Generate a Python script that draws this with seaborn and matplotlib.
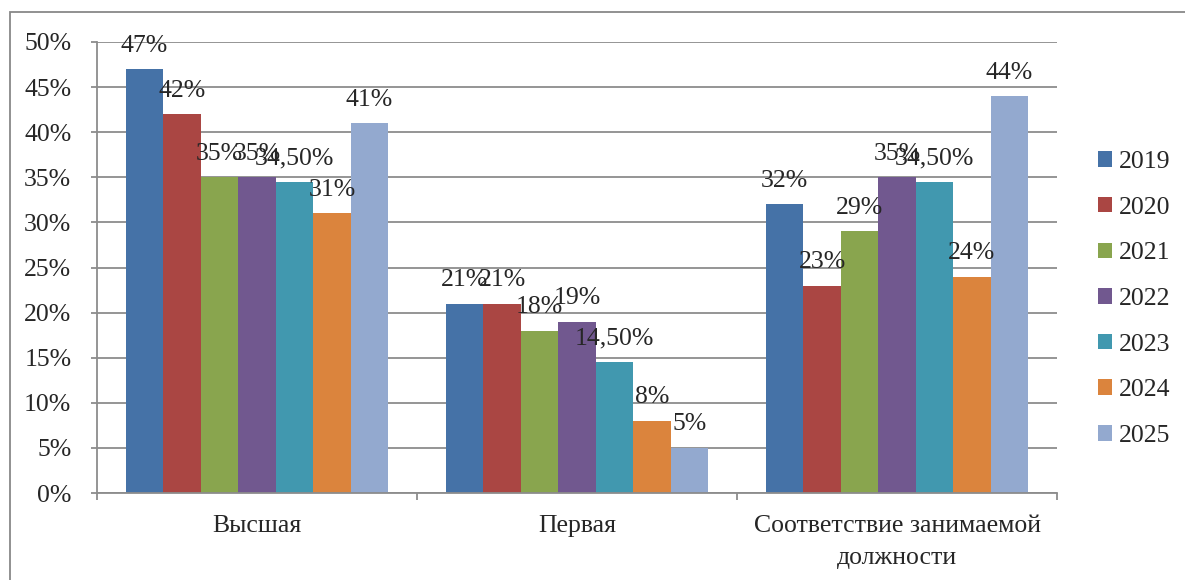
import pandas as pd
import matplotlib.pyplot as plt
import seaborn as sns
from matplotlib.patches import Rectangle

# data
categories = ['Высшая', 'Первая', 'Соответствие занимаемой\nдолжности']
years = ['2019', '2020', '2021', '2022', '2023', '2024', '2025']
v2019 = [47, 21, 32]
v2020 = [42, 21, 23]
v2021 = [35, 18, 29]
v2022 = [35, 19, 35]
v2023 = [34.5, 14.5, 34.5]
v2024 = [31, 8, 24]
v2025 = [41, 5, 44]
series = [v2019, v2020, v2021, v2022, v2023, v2024, v2025]
colors = ['#4572A7', '#AA4643', '#89A54E', '#71588F', '#4198AF', '#DB843D', '#93A9CF']

rows = []
for year, vals in zip(years, series):
    for cat, v in zip(categories, vals):
        rows.append({'cat': cat, 'year': year, 'val': v / 100})
df = pd.DataFrame(rows)

sns.set_style('white')
plt.rcParams['font.family'] = ['Liberation Serif', 'DejaVu Serif']
FS = 18.5

fig = plt.figure(figsize=(11.85, 5.8), dpi=100)
ax = fig.add_axes([97 / 1185, 1 - 493 / 580, 960 / 1185, 451 / 580])

sns.barplot(data=df, x='cat', y='val', hue='year', hue_order=years,
            palette=colors, width=0.82, saturation=1, linewidth=0, ax=ax)


def fmt(v):
    if float(v).is_integer():
        return f'{int(v)}%'
    return f'{v:.2f}%'.replace('.', ',')


for cont, vals in zip(ax.containers, series):
    ax.bar_label(cont, labels=[fmt(v) for v in vals], padding=9, fontsize=FS)

grid_c = '#8c8c8c'
ax.set_ylim(0, 0.5)
ax.set_xlim(-0.5, 2.5)
ax.set_yticks([i / 100 for i in range(0, 51, 5)])
ax.set_yticklabels([f'{i}%' for i in range(0, 51, 5)], fontsize=FS)
ax.yaxis.grid(True, color=grid_c, linewidth=1.3)
ax.set_axisbelow(True)
ax.tick_params(axis='y', length=4.5, width=1.3, color=grid_c, pad=14, left=True)

ax.set_xticks([-0.5, 0.5, 1.5, 2.5])
ax.set_xticklabels([])
ax.set_xticks([0, 1, 2], minor=True)
ax.set_xticklabels(categories, minor=True, fontsize=FS, linespacing=1.6)
ax.tick_params(axis='x', which='major', length=5, width=1.3, color=grid_c, bottom=True)
ax.tick_params(axis='x', which='minor', length=0, pad=16)

for side in ['top', 'right']:
    ax.spines[side].set_visible(False)
for side in ['left', 'bottom']:
    ax.spines[side].set_color(grid_c)
    ax.spines[side].set_linewidth(1.3)

ax.set_xlabel('')
ax.set_ylabel('')

ax.legend(loc='center left', bbox_to_anchor=(1098 / 1185, 1 - 299 / 580),
          bbox_transform=fig.transFigure, frameon=False, fontsize=FS,
          handlelength=0.55, handleheight=0.55, handletextpad=0.25,
          labelspacing=0.92, borderpad=0, borderaxespad=0)

# outer frame of the chart area (only left and top edges are visible)
fig.patches.append(Rectangle((10 / 1185, -0.1), 1.2, 1.1 - 12 / 580,
                             transform=fig.transFigure, fill=False,
                             edgecolor='#888888', linewidth=1.3))

fig.savefig('out.png', dpi=100)
